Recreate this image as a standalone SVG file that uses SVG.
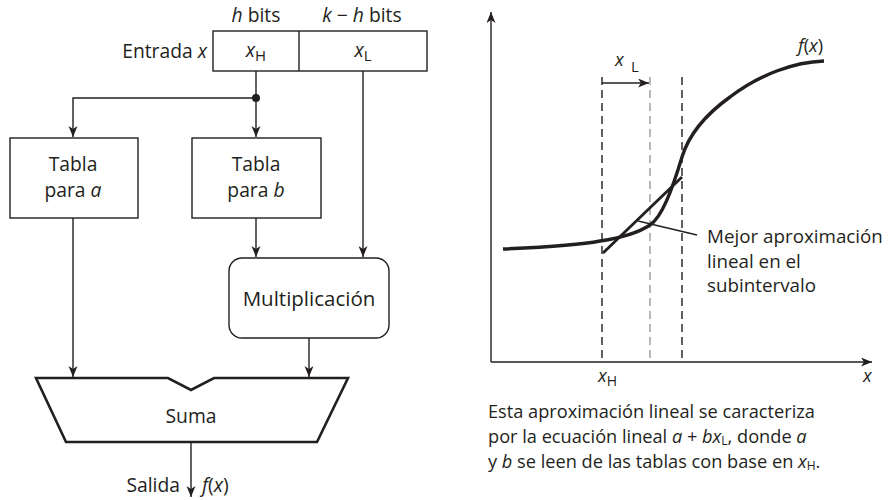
<svg xmlns="http://www.w3.org/2000/svg" width="894" height="500" viewBox="0 0 894 500">
<defs>
<style>
text{font-family:"Open Sans","DejaVu Sans",sans-serif;fill:#231f20}
.l{font-size:19.3px}
.r{font-size:18.2px}
.i{font-style:italic}
.box{fill:#fff;stroke:#231f20;stroke-width:1.4}
.con{fill:none;stroke:#231f20;stroke-width:1.4}
.dash{fill:none;stroke:#231f20;stroke-width:1.4;stroke-dasharray:8 5}
.dashg{fill:none;stroke:#9a9a9a;stroke-width:1.4;stroke-dasharray:8 5}
</style>
<marker id="ar" markerUnits="userSpaceOnUse" markerWidth="12" markerHeight="10" refX="11" refY="4.5" orient="auto">
<path d="M0,0 L11,4.5 L0,9 L3,4.5 z" fill="#231f20"/>
</marker>
</defs>

<g id="connectors">
<path class="con" d="M256,71 V137" marker-end="url(#ar)"/>
<path class="con" d="M256,98 H73 V137" marker-end="url(#ar)"/>
<circle cx="256" cy="98" r="4" fill="#231f20"/>
<path class="con" d="M363,71 V257" marker-end="url(#ar)"/>
<path class="con" d="M256,218 V257" marker-end="url(#ar)"/>
<path class="con" d="M73,218 V377" marker-end="url(#ar)"/>
<path class="con" d="M309,338 V377" marker-end="url(#ar)"/>
<path class="con" d="M191,442 V497" marker-end="url(#ar)"/>
</g>

<g id="input">
<rect class="box" x="213" y="31" width="214" height="40"/>
<line class="con" x1="299" y1="31" x2="299" y2="71"/>
<text class="l" x="256" y="22" text-anchor="middle"><tspan class="i">h</tspan> bits</text>
<text class="l" x="362" y="22" text-anchor="middle"><tspan class="i">k</tspan> − <tspan class="i">h</tspan> bits</text>
<text class="l" x="207" y="58" text-anchor="end">Entrada <tspan class="i">x</tspan></text>
<text class="l" x="256" y="57" text-anchor="middle"><tspan class="i">x</tspan><tspan font-size="15" dy="4">H</tspan></text>
<text class="l" x="363" y="57" text-anchor="middle"><tspan class="i">x</tspan><tspan font-size="15" dy="4">L</tspan></text>
</g>

<g id="tabla-a">
<rect class="box" x="10" y="138" width="128" height="80"/>
<text class="l" x="73" y="171" text-anchor="middle">Tabla</text>
<text class="l" x="73" y="197" text-anchor="middle">para <tspan class="i">a</tspan></text>
</g>

<g id="tabla-b">
<rect class="box" x="192" y="138" width="129" height="80"/>
<text class="l" x="256" y="171" text-anchor="middle">Tabla</text>
<text class="l" x="256" y="197" text-anchor="middle">para <tspan class="i">b</tspan></text>
</g>

<g id="multiplicacion">
<rect class="box" x="229" y="258" width="160" height="80" rx="13"/>
<text class="l" x="309" y="306" text-anchor="middle" style="font-size:20.5px">Multiplicación</text>
</g>

<g id="suma">
<path d="M36,378 H168 L191,390 L214,378 H348 L317,442 H66 Z" fill="#fff" stroke="#231f20" stroke-width="2.6" stroke-linejoin="miter"/>
<text class="l" x="191" y="423" text-anchor="middle">Suma</text>
</g>

<g id="salida">
<text class="l" x="180" y="492" text-anchor="end">Salida</text>
<text class="l" x="202" y="492"><tspan class="i">f</tspan>(<tspan class="i">x</tspan>)</text>
</g>

<g id="grafica">
<path class="con" d="M491,362 V12" stroke-width="1.6" marker-end="url(#ar)"/>
<path class="con" d="M491,362 H872" stroke-width="1.6" marker-end="url(#ar)"/>
<line class="dash" x1="602" y1="77" x2="602" y2="362"/>
<line class="dashg" x1="650" y1="77" x2="650" y2="362"/>
<line class="dash" x1="682" y1="77" x2="682" y2="362"/>
<path class="con" d="M602,83 H649" marker-end="url(#ar)"/>
<text class="r" x="615" y="66"><tspan class="i">x</tspan></text>
<text class="r" x="631" y="72" style="font-size:15px">L</text>
<path d="M503,249 C550,247 585,244 600,241 C620,238 638,233 650,225 C662,217 672,190 682,157 C689,134 705,115 730,97 C760,74 795,62 824,61" fill="none" stroke="#231f20" stroke-width="3.4" stroke-linecap="butt"/>
<path d="M603,253 L682,177" fill="none" stroke="#231f20" stroke-width="2.8"/>
<path class="con" d="M638,221 L697,235" stroke-width="1.2"/>
<text class="r" x="798" y="52"><tspan class="i">f</tspan>(<tspan class="i">x</tspan>)</text>
<text class="r" x="707" y="243" style="font-size:18.8px">Mejor aproximación</text>
<text class="r" x="707" y="268" style="font-size:18.8px">lineal en el</text>
<text class="r" x="707" y="292" style="font-size:18.8px">subintervalo</text>
<text class="r" x="598" y="382"><tspan class="i">x</tspan><tspan font-size="14" dy="4">H</tspan></text>
<text class="r i" x="863" y="382">x</text>
</g>

<g id="caption">
<text class="r" x="488" y="418">Esta aproximación lineal se caracteriza</text>
<text class="r" x="488" y="443">por la ecuación lineal <tspan class="i">a</tspan> + <tspan class="i">b</tspan><tspan class="i">x</tspan><tspan font-size="12" dy="2">L</tspan><tspan dy="-2">, donde </tspan><tspan class="i">a</tspan></text>
<text class="r" x="488" y="468">y <tspan class="i">b</tspan> se leen de las tablas con base en <tspan class="i">x</tspan><tspan font-size="12" dy="2">H</tspan><tspan dy="-2">.</tspan></text>
</g>
</svg>
